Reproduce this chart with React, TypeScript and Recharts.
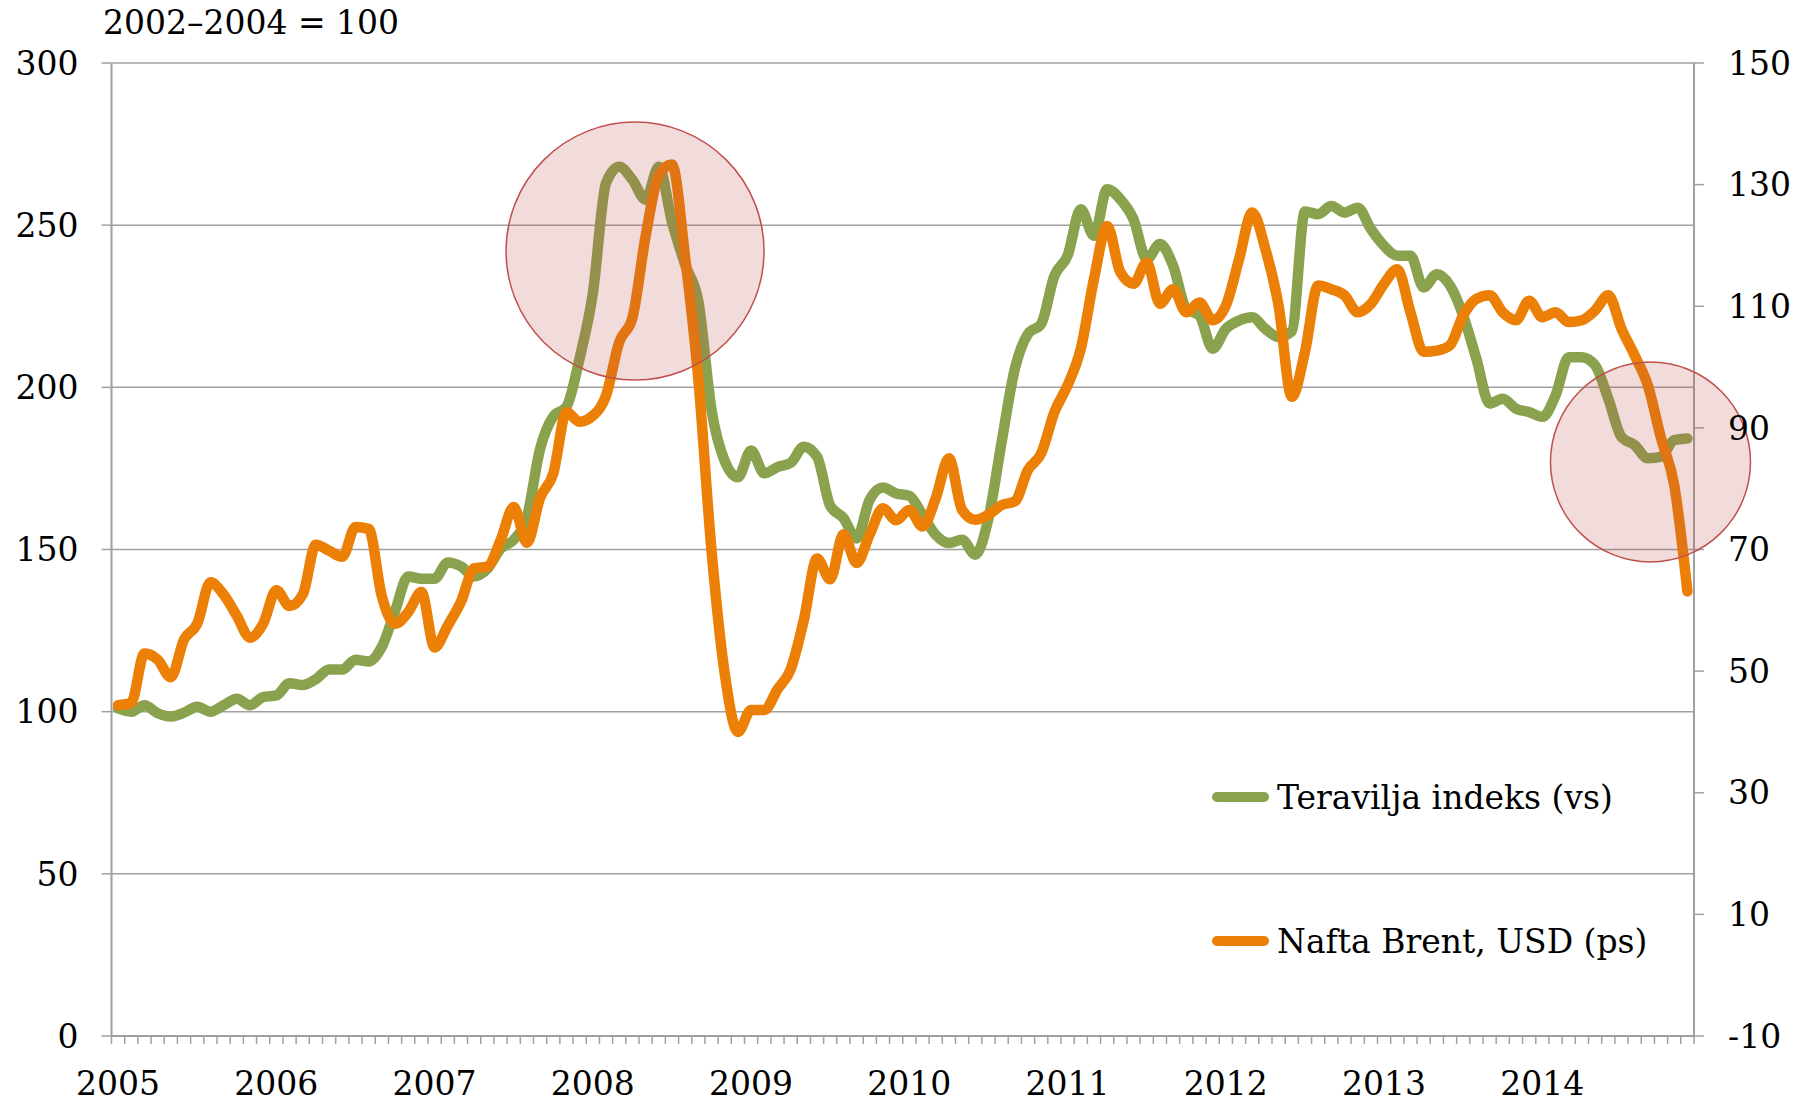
import React from 'react';
import { ComposedChart, Line, XAxis, YAxis, CartesianGrid, Legend, ReferenceDot } from 'recharts';

// tick labels
const years = ['2005', '2006', '2007', '2008', '2009', '2010', '2011', '2012', '2013', '2014'];
const leftTicks = [0, 50, 100, 150, 200, 250, 300];
const rightTicks = [-10, 10, 30, 50, 70, 90, 110, 130, 150];

// Teravilja indeks (2002-2004 = 100), monthly 2005-01 .. 2014-12, left axis
const teravilja = [
  101, 100, 102, 99.5, 98.5, 99.7, 101.5, 100, 102, 104, 102, 104.5,
  105, 108.8, 108.2, 110, 113, 113, 116, 115.5, 120, 131, 141.7, 141,
  141, 146, 144.8, 141.7, 144, 150.2, 153, 160, 181, 191, 194, 209,
  229, 263, 268, 264, 257.9, 268, 251, 237.8, 226.5, 193, 177.3, 172.3,
  180.5, 173.5, 175.4, 176.7, 181.7, 178.6, 163.5, 159.7, 153.4, 165.4, 169.1, 167.3,
  166.5, 160.7, 154.5, 152, 153, 148.4, 159.6, 183.2, 205.7, 216.5, 219.6, 234.4,
  240.6, 254.9, 246.7, 261.1, 258, 251.8, 239.5, 244.2, 237.5, 224.2, 222.1, 211.9,
  218, 220.6, 221.6, 218, 215.5, 217.3, 254.2, 253.4, 255.9, 253.9, 255.4, 248.8,
  243.6, 240.6, 240.6, 230.8, 234.9, 231.4, 222.1, 208.8, 195, 196.5, 193.4, 192.4,
  190.9, 197.5, 209.3, 209.3, 206.8, 196.5, 184.7, 182.2, 178.1, 178.6, 183.7, 184.2,
];

// Nafta Brent, USD, right axis
const brent = [
  44.4, 44.8, 52.9, 51.9, 49, 55.2, 57.8, 64.6, 62.6, 59.1, 55.5, 57.8,
  63.3, 60.7, 62.6, 70.8, 69.8, 68.8, 73.7, 73.4, 62.3, 57.8, 59.7, 63,
  53.9, 57.5, 61.4, 66.9, 67.2, 71.5, 77, 71.1, 78.5, 82.5, 92.6, 91,
  92, 95.3, 104.1, 108.1, 121.5, 131.5, 133.3, 118, 98, 69.8, 49.6, 40,
  43.6, 43.6, 47, 50.3, 58.4, 68.5, 65.1, 72.5, 67.8, 72.5, 76.8, 74.8,
  76.5, 73.8, 78.4, 85, 76.5, 74.9, 75.7, 77.3, 77.9, 83.1, 85.8, 92.6,
  97, 103, 114.5, 123.2, 115.6, 113.7, 117.2, 110.4, 112.8, 109, 110.6, 107.7,
  110.1, 117.7, 125.4, 119.4, 110.1, 95.1, 102.5, 113.4, 112.8, 111.8, 109, 110.4,
  113.7, 116.1, 109, 102.5, 102.7, 103.6, 108.5, 111.2, 111.8, 109, 107.7, 110.9,
  108.2, 109, 107.4, 107.7, 109.3, 111.8, 106.3, 101.9, 97, 88.3, 80.6, 63.1,
];

const GREEN = '#8aa24d';
const ORANGE = '#ec7f06';
const GRID = '#a0a0a0';
const FONT = '"DejaVu Serif", serif';

const CHART_W = 1787;
const CHART_H = 1097;
const PLOT_W = CHART_W - 103.5 - 101;
const HALF_MONTH = PLOT_W / 240;

const data = teravilja.map((v, i) => ({ m: i + 0.5, teravilja: v, brent: brent[i] }));
const monthTicks = Array.from({ length: 121 }, (_, i) => i);

const YearTick = (props: any) => {
  const { x, y, payload } = props;
  const v = payload.value;
  if (v % 12 !== 0 || v >= 120) return <g />;
  return (
    <text x={x + HALF_MONTH} y={y + 49} textAnchor="middle" fill="#000" fontSize={33} fontFamily={FONT}>
      {years[v / 12]}
    </text>
  );
};

const legendItems = [
  { name: 'Teravilja indeks (vs)', color: GREEN },
  { name: 'Nafta Brent, USD (ps)', color: ORANGE },
];

const renderLegend = () => (
  <div style={{ fontFamily: FONT, fontSize: 33, color: '#000' }}>
    {legendItems.map((item) => (
      <div key={item.name} style={{ display: 'flex', alignItems: 'center', height: 144, whiteSpace: 'nowrap' }}>
        <svg width={57} height={12}>
          <line x1={5} y1={6} x2={52} y2={6} stroke={item.color} strokeWidth={10} strokeLinecap="round" />
        </svg>
        <span style={{ marginLeft: 8 }}>{item.name}</span>
      </div>
    ))}
  </div>
);

export default function App() {
  const axisTick = { fill: '#000', fontSize: 33, fontFamily: FONT };
  return (
    <div style={{ position: 'relative', width: CHART_W, height: CHART_H }}>
      <div style={{ position: 'absolute', left: 95, top: -2, fontFamily: FONT, fontSize: 33, lineHeight: '33px', color: '#000' }}>
        2002–2004 = 100
      </div>
      <ComposedChart width={CHART_W} height={CHART_H} data={data} margin={{ top: 55, right: 21, bottom: 9, left: 23.5 }}>
        <CartesianGrid yAxisId="left" vertical={false} stroke={GRID} strokeWidth={1.5} />
        <XAxis
          dataKey="m"
          type="number"
          domain={[0, 120]}
          ticks={monthTicks}
          interval={0}
          tick={<YearTick />}
          tickSize={8}
          tickLine={{ stroke: GRID, strokeWidth: 1.5 }}
          axisLine={{ stroke: GRID, strokeWidth: 2 }}
          height={60}
        />
        <YAxis
          yAxisId="left"
          domain={[0, 300]}
          ticks={leftTicks}
          interval={0}
          width={80}
          tick={axisTick}
          tickSize={10}
          tickMargin={23}
          tickLine={{ stroke: GRID, strokeWidth: 1.5 }}
          axisLine={{ stroke: GRID, strokeWidth: 2 }}
        />
        <YAxis
          yAxisId="right"
          orientation="right"
          domain={[-10, 150]}
          ticks={rightTicks}
          interval={0}
          width={80}
          tick={axisTick}
          tickSize={10}
          tickMargin={24}
          tickLine={{ stroke: GRID, strokeWidth: 1.5 }}
          axisLine={{ stroke: GRID, strokeWidth: 2 }}
        />
        <Line
          yAxisId="left"
          dataKey="teravilja"
          name="Teravilja indeks (vs)"
          type="monotone"
          stroke={GREEN}
          strokeWidth={10.5}
          strokeLinecap="round"
          strokeLinejoin="round"
          dot={false}
          activeDot={false}
          isAnimationActive={false}
        />
        <Line
          yAxisId="right"
          dataKey="brent"
          name="Nafta Brent, USD (ps)"
          type="monotone"
          stroke={ORANGE}
          strokeWidth={10.5}
          strokeLinecap="round"
          strokeLinejoin="round"
          dot={false}
          activeDot={false}
          isAnimationActive={false}
        />
        <ReferenceDot yAxisId="left" x={39.7} y={242} r={129} fill="#c0504d" fillOpacity={0.2} stroke="#c0504d" strokeWidth={1.5} ifOverflow="visible" />
        <ReferenceDot yAxisId="left" x={116.7} y={177} r={100} fill="#c0504d" fillOpacity={0.2} stroke="#c0504d" strokeWidth={1.5} ifOverflow="visible" />
        <Legend
          layout="vertical"
          verticalAlign="middle"
          align="center"
          content={renderLegend}
          wrapperStyle={{ position: 'absolute', left: 1204, top: 717, width: 560 }}
        />
      </ComposedChart>
    </div>
  );
}
